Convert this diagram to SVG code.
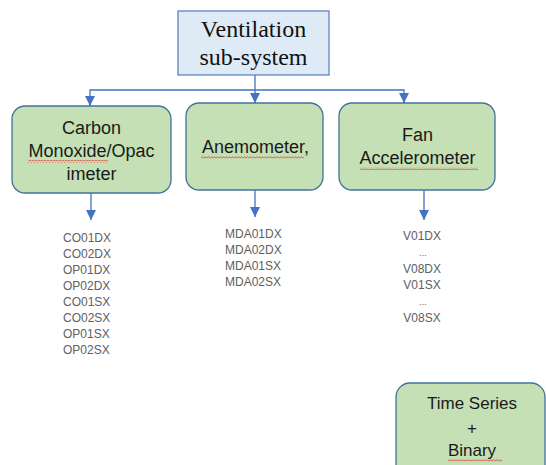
<svg xmlns="http://www.w3.org/2000/svg" width="546" height="465" viewBox="0 0 546 465">
<style>
.top{fill:#DEEBF7;stroke:#5F84C2;stroke-width:1.3}
.box{fill:#C5E0B4;stroke:#41719C;stroke-width:1.3}
.serif{font-family:"Liberation Serif","Times New Roman",serif;font-size:24px;fill:#111;text-anchor:middle}
.lbl{font-family:"Liberation Sans",Arial,sans-serif;font-size:18px;fill:#1a1a1a;text-anchor:middle}
.lst{font-family:"Liberation Sans",Arial,sans-serif;font-size:12px;fill:#606060}
.conn{stroke:#4472C4;stroke-width:1.3;fill:none}
</style>
<defs>
<marker id="ah" markerUnits="userSpaceOnUse" markerWidth="10" markerHeight="10" refX="4" refY="8" orient="0" viewBox="0 0 8 8">
<path d="M0,0 L8,0 L4,8 Z" fill="#4472C4"/>
</marker>
<pattern id="sq" width="3" height="3" patternUnits="userSpaceOnUse">
<path d="M0,2.4 L1.5,0.6 L3,2.4" stroke="#E03A3A" stroke-width="0.8" fill="none"/>
</pattern>
</defs>

<g id="connectors">
<line class="conn" x1="255" y1="75" x2="255" y2="103" marker-end="url(#ah)"/>
<polyline class="conn" points="90,105 90,90 404,90 404,103" />
<line class="conn" x1="90" y1="98" x2="90" y2="106" marker-end="url(#ah)"/>
<line class="conn" x1="404" y1="96" x2="404" y2="103" marker-end="url(#ah)"/>
<line class="conn" x1="91" y1="193" x2="91" y2="220" marker-end="url(#ah)"/>
<line class="conn" x1="255" y1="190" x2="255" y2="217" marker-end="url(#ah)"/>
<line class="conn" x1="424" y1="190" x2="424" y2="220" marker-end="url(#ah)"/>
</g>

<g id="ventilation">
<rect class="top" x="178" y="11" width="151" height="64"/>
<text class="serif" x="253.5" y="37">Ventilation</text>
<text class="serif" x="253.5" y="65">sub-system</text>
</g>

<g id="carbon">
<rect class="box" x="12" y="106" width="159" height="87" rx="13"/>
<text class="lbl" x="91.5" y="134">Carbon</text>
<text class="lbl" x="91.5" y="157">Monoxide/Opac</text>
<text class="lbl" x="91.5" y="180">imeter</text>
<rect x="28" y="160" width="80" height="3" fill="url(#sq)"/>
</g>

<g id="anemometer">
<rect class="box" x="186" y="103" width="137" height="87" rx="13"/>
<text class="lbl" x="255.5" y="153">Anemometer,</text>
<rect x="201" y="156" width="103" height="3" fill="url(#sq)"/>
</g>

<g id="fan">
<rect class="box" x="339" y="103" width="156" height="87" rx="13"/>
<text class="lbl" x="417.5" y="141">Fan</text>
<text class="lbl" x="417.5" y="164">Accelerometer</text>
<rect x="360" y="167" width="118" height="3" fill="url(#sq)"/>
</g>

<g id="timeseries">
<rect class="box" x="396" y="383" width="149" height="110" rx="14"/>
<text class="lbl" x="472" y="409" style="font-size:17px">Time Series</text>
<text class="lbl" x="472" y="434" style="font-size:17px">+</text>
<text class="lbl" x="472" y="456" style="font-size:17px">Binary</text>
<rect x="448" y="459" width="54" height="3" fill="url(#sq)"/>
</g>

<g id="list-co">
<text class="lst" x="63" y="242">CO01DX</text>
<text class="lst" x="63" y="258">CO02DX</text>
<text class="lst" x="63" y="274">OP01DX</text>
<text class="lst" x="63" y="290">OP02DX</text>
<text class="lst" x="63" y="306">CO01SX</text>
<text class="lst" x="63" y="322">CO02SX</text>
<text class="lst" x="63" y="338">OP01SX</text>
<text class="lst" x="63" y="354">OP02SX</text>
</g>

<g id="list-mda">
<text class="lst" x="225" y="237.5">MDA01DX</text>
<text class="lst" x="225" y="253.8">MDA02DX</text>
<text class="lst" x="225" y="270.1">MDA01SX</text>
<text class="lst" x="225" y="286.4">MDA02SX</text>
</g>

<g id="list-v" style="text-anchor:middle">
<text class="lst" x="422" y="240">V01DX</text>
<text class="lst" x="423" y="256" style="font-size:9px">...</text>
<text class="lst" x="422" y="273">V08DX</text>
<text class="lst" x="422" y="289">V01SX</text>
<text class="lst" x="423" y="305" style="font-size:9px">...</text>
<text class="lst" x="422" y="322">V08SX</text>
</g>
</svg>
